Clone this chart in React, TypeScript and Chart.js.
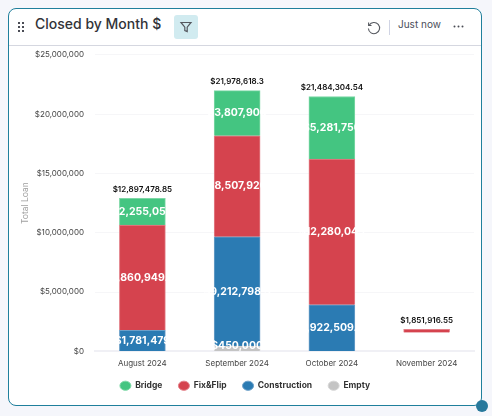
import React, { useEffect, useRef } from "react";
import { Chart, registerables } from "chart.js";

Chart.register(...registerables);

const months = ["August 2024", "September 2024", "October 2024", "November 2024"];
const bridge = [2255050, 3807900, 5281750, 0];
const fixFlip: any[] = [8860949.85, 8507920, 12280045, [1600000, 1851916.55]];
const construction = [1781479, 9212798.3, 3922509.54, 0];
const empty = [0, 450000, 0, 0];
const yTicks = [0, 5000000, 10000000, 15000000, 20000000, 25000000];

const money = (v: number) =>
  "$" + v.toLocaleString("en-US", { maximumFractionDigits: 2 });
const top = (v: any) => (Array.isArray(v) ? v[1] : v);

const LABEL_FONT = "Inter, 'Noto Sans', sans-serif";
const LEGEND_LIFT = 9.5;

const labelsPlugin = {
  id: "barLabels",
  afterLayout(chart: any) {
    chart.legend.top -= LEGEND_LIFT;
    chart.legend.bottom -= LEGEND_LIFT;
  },
  afterDatasetsDraw(chart: any) {
    const { ctx, chartArea, scales } = chart;
    ctx.save();
    ctx.textAlign = "center";
    ctx.textBaseline = "middle";
    chart.data.datasets.forEach((ds: any, di: number) => {
      const meta = chart.getDatasetMeta(di);
      meta.data.forEach((bar: any, i: number) => {
        const raw = ds.data[i];
        if (!raw || Array.isArray(raw)) return;
        const { x, y, base } = bar.getProps(["x", "y", "base"], true);
        const cy = Math.min((y + base) / 2, chartArea.bottom - 6);
        ctx.font = "700 10.5px " + LABEL_FONT;
        ctx.fillStyle = "#ffffff";
        ctx.fillText(money(raw), x, cy);
      });
    });
    months.forEach((_, i) => {
      const total = top(fixFlip[i]) + bridge[i] + construction[i] + empty[i];
      const x = scales.x.getPixelForValue(i);
      const y = scales.y.getPixelForValue(total);
      ctx.font = "600 8px " + LABEL_FONT;
      ctx.fillStyle = "#111111";
      ctx.fillText(money(total), x, y - 9);
    });
    ctx.restore();
  },
};

const S: Record<string, React.CSSProperties> = {
  page: { position: "fixed", inset: 0, background: "#f5f6fb" },
  card: {
    position: "absolute", left: 8, top: 8, width: 474, height: 398, boxSizing: "border-box",
    background: "#fff", border: "1px solid #1f7f9c", borderRadius: 8,
  },
  divider: { position: "absolute", left: 9, top: 45, width: 472, height: 1, background: "#d5d7e0" },
  title: {
    position: "absolute", left: 35, top: 15, height: 22, lineHeight: "22px",
    font: "500 14px Inter, sans-serif", color: "#323338", whiteSpace: "nowrap",
  },
  filter: { position: "absolute", left: 174, top: 15, width: 24, height: 24, borderRadius: 3, background: "#d1ebf0" },
  sep: { position: "absolute", left: 389, top: 20, width: 1, height: 15, background: "#d0d4e4" },
  now: {
    position: "absolute", left: 398, top: 18, height: 18, lineHeight: "18px",
    font: "400 10px Inter, sans-serif", color: "#4b4e5a", whiteSpace: "nowrap",
  },
  canvasWrap: { position: "absolute", left: 9, top: 39, width: 472, height: 366 },
  handle: { position: "absolute", left: 476, top: 400, width: 12, height: 12, borderRadius: "50%", background: "#28799c" },
};

export default function App() {
  const ref = useRef<HTMLCanvasElement>(null);
  useEffect(() => {
    const mk = (label: string, data: any[], color: string, edge: string) => ({
      label, data, backgroundColor: color, borderColor: edge, borderWidth: 1, barThickness: 46,
    });
    const chart = new Chart(ref.current as HTMLCanvasElement, {
      type: "bar",
      data: {
        labels: months,
        datasets: [
          mk("Empty", empty, "#c4c4c4", "#d6d6d6"),
          mk("Construction", construction, "#2b7bb3", "#6b9fc8"),
          mk("Fix&Flip", fixFlip, "#d5434e", "#e38089"),
          mk("Bridge", bridge, "#44c581", "#7dd8a6"),
        ],
      },
      options: {
        responsive: true,
        maintainAspectRatio: false,
        animation: false,
        layout: { padding: { top: 0, right: 7, bottom: 5 - LEGEND_LIFT, left: 7 } },
        scales: {
          x: {
            stacked: true,
            grid: { display: false, drawTicks: false },
            border: { color: "#f0f0f5", width: 2 },
            ticks: { color: "#444", font: { family: "Inter", size: 8 }, padding: 7, maxRotation: 0 },
          },
          y: {
            stacked: true,
            min: 0,
            max: 25000000,
            afterBuildTicks: (s: any) => { s.ticks = yTicks.map((value) => ({ value })); },
            afterFit: (s: any) => { s.width = 79; },
            grid: { color: "#f6f6f8", drawTicks: false },
            border: { display: false },
            title: { display: true, text: "Total Loan", color: "#a0a0a0", font: { family: "Inter", size: 8.5, weight: "400" }, padding: { top: 4, bottom: 0 } },
            ticks: {
              color: "#444", font: { family: "Inter", size: 8 }, padding: 11,
              callback: (v: any) => "$" + Number(v).toLocaleString("en-US"),
            },
          },
        },
        plugins: {
          tooltip: { enabled: false },
          legend: {
            position: "bottom",
            reverse: true,
            labels: {
              usePointStyle: true, pointStyle: "circle", pointStyleWidth: 11, boxHeight: 6.5, padding: 16,
              color: "#333", font: { family: "Inter", size: 8.5, weight: "700" },
            },
          },
        },
      } as any,
      plugins: [labelsPlugin],
    });
    return () => chart.destroy();
  }, []);

  return (
    <div style={S.page}>
      <div style={S.card} />
      <div style={S.divider} />
      <svg style={{ position: "absolute", left: 17, top: 21 }} width="8" height="12" fill="#4a4c55">
        {[0, 1, 2].map((r) => [0, 1].map((c) => <rect key={r + "-" + c} x={1 + c * 4} y={1 + r * 4} width="2" height="2" />))}
      </svg>
      <div style={S.title}>Closed by Month $</div>
      <div style={S.filter}>
        <svg width="24" height="24" fill="none" stroke="#55585f" strokeWidth="1.2">
          <path d="M7 7.5h10l-3.8 4.6v4.4l-2.4-1v-3.4z" />
        </svg>
      </div>
      <svg style={{ position: "absolute", left: 366, top: 20 }} width="16" height="16" fill="none" stroke="#55585f" strokeWidth="1.1">
        <path d="M3.2 5.2A5.6 5.6 0 1 1 2.4 8.5" />
        <path d="M2.6 2.6v2.9h2.9" />
      </svg>
      <div style={S.sep} />
      <div style={S.now}>Just now</div>
      <svg style={{ position: "absolute", left: 452, top: 24 }} width="14" height="6" fill="#4a4c55">
        <circle cx="2.5" cy="2.5" r="1" /><circle cx="6.5" cy="2.5" r="1" /><circle cx="10.5" cy="2.5" r="1" />
      </svg>
      <div style={S.canvasWrap}><canvas ref={ref} /></div>
      <div style={S.handle} />
    </div>
  );
}
